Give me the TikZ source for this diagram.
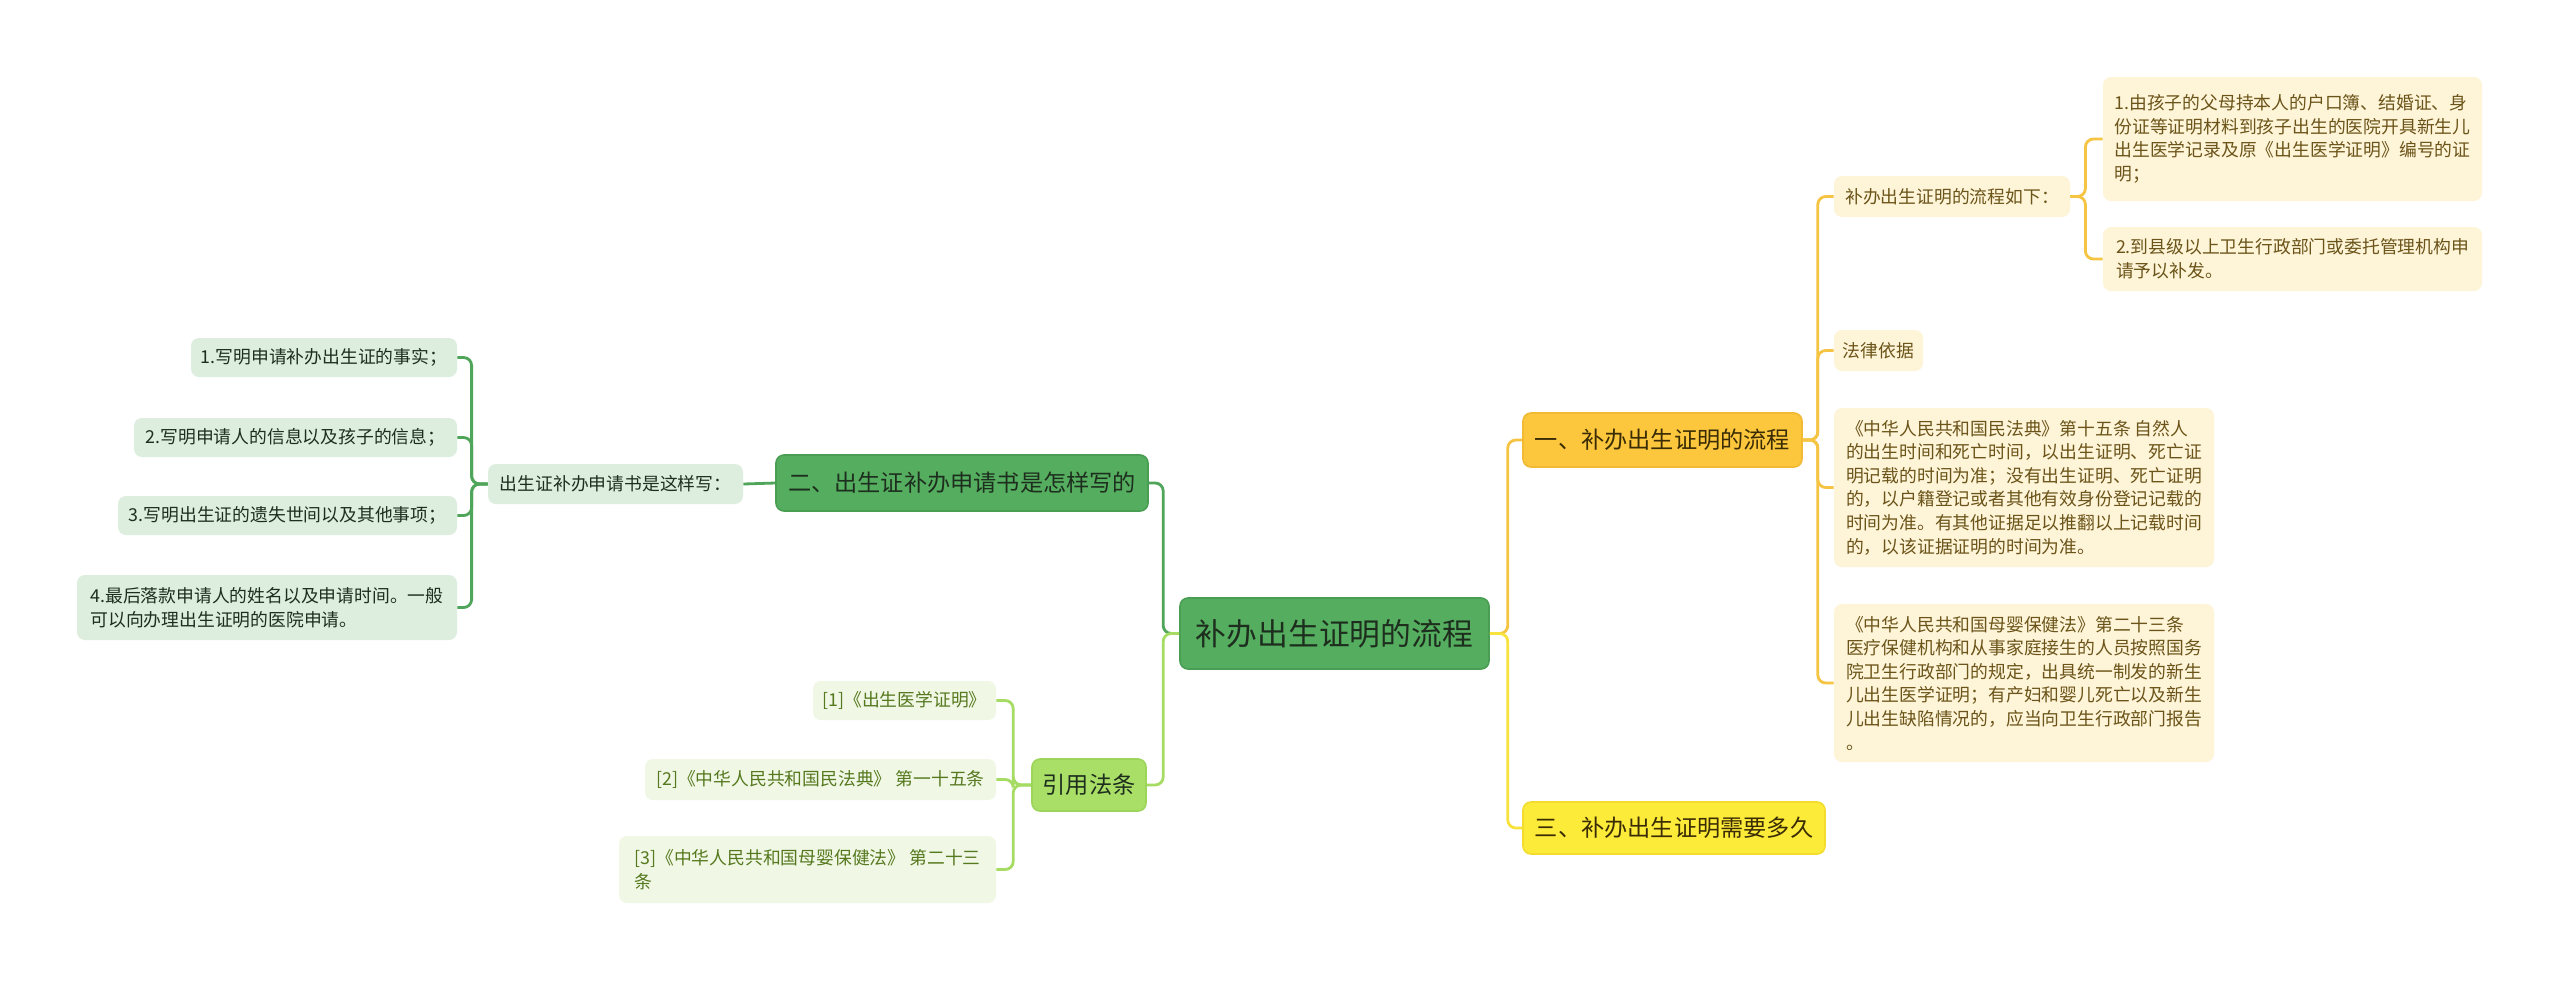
\documentclass[tikz,border=0pt]{standalone}
\usepackage{fontspec}
\setmainfont{Noto Sans CJK SC}
\definecolor{rootg}{HTML}{55AE5F}
\definecolor{rootgb}{HTML}{4A9E53}
\definecolor{darktxt}{HTML}{1E2E1E}
\definecolor{amber}{HTML}{FCC73D}
\definecolor{amberb}{HTML}{F2B934}
\definecolor{yel}{HTML}{FDEB3A}
\definecolor{yelb}{HTML}{F3DC2E}
\definecolor{cream}{HTML}{FEF4D8}
\definecolor{creamtxt}{HTML}{6B5419}
\definecolor{brtxt}{HTML}{3A2C05}
\definecolor{lgfill}{HTML}{DDEEDF}
\definecolor{lime}{HTML}{AADF67}
\definecolor{limeb}{HTML}{9CD55A}
\definecolor{palelime}{HTML}{F0F8E5}
\definecolor{limetxt}{HTML}{56781E}
\definecolor{cOrange}{HTML}{F6C443}
\definecolor{cYellow}{HTML}{F8E33C}
\definecolor{cGreen}{HTML}{4FA55A}
\definecolor{cLime}{HTML}{A6DC63}
\tikzset{
  x=0.5pt, y=-0.5pt,
  sz/.style 2 args={minimum width=#1*0.5pt, minimum height=#2*0.5pt},
  box/.style={rectangle, rounded corners=4pt, inner xsep=4pt, inner ysep=2pt, align=left},
  small/.style={font=\fontsize{8.9}{11.8}\selectfont},
  mid/.style={font=\fontsize{11.6}{14}\selectfont},
  rootbox/.style={box, fill=rootg, draw=rootgb, line width=0.8pt, text=darktxt, font=\fontsize{15.4}{18}\selectfont},
  bigreen/.style={box, fill=rootg, draw=rootgb, line width=0.8pt, text=darktxt, mid},
  amberbox/.style={box, fill=amber, draw=amberb, line width=0.8pt, text=brtxt, mid},
  yelbox/.style={box, fill=yel, draw=yelb, line width=0.8pt, text=brtxt, mid},
  creambox/.style={box, fill=cream, text=creamtxt, small},
  lgbox/.style={box, fill=lgfill, text=darktxt, small},
  limebox/.style={box, fill=lime, draw=limeb, line width=0.8pt, text=darktxt, mid},
  palebox/.style={box, fill=palelime, text=limetxt, small},
  conn/.style={line width=1.4pt, rounded corners=4pt},
}
\begin{document}
\begin{tikzpicture}
\useasboundingbox[fill=white] (0,0) rectangle (2560,981);

% root
\node[rootbox, sz={309}{71}] (root) at (1334.5,633.5) {补办出生证明的流程};

% right branches
\node[amberbox, sz={279}{54}] (b1) at (1662.5,440) {一、补办出生证明的流程};
\node[yelbox, sz={302}{52}] (b3) at (1674,828) {三、补办出生证明需要多久};

\node[creambox, sz={236}{41}] (flow) at (1952,196.5) {补办出生证明的流程如下：};
\node[creambox, sz={379}{124}] (f1) at (2292.5,139) {1.由孩子的父母持本人的户口簿、结婚证、身\\份证等证明材料到孩子出生的医院开具新生儿\\出生医学记录及原《出生医学证明》编号的证\\明；};
\node[creambox, sz={379}{64}] (f2) at (2292.5,259) {2.到县级以上卫生行政部门或委托管理机构申\\请予以补发。};
\node[creambox, sz={89}{41}] (law) at (1878.5,350.5) {法律依据};
\node[creambox, sz={380}{159}] (civil) at (2024,487.5) {《中华人民共和国民法典》第十五条 自然人\\的出生时间和死亡时间，以出生证明、死亡证\\明记载的时间为准；没有出生证明、死亡证明\\的，以户籍登记或者其他有效身份登记记载的\\时间为准。有其他证据足以推翻以上记载时间\\的，以该证据证明的时间为准。};
\node[creambox, sz={380}{158}] (mat) at (2024,683) {《中华人民共和国母婴保健法》第二十三条\\医疗保健机构和从事家庭接生的人员按照国务\\院卫生行政部门的规定，出具统一制发的新生\\儿出生医学证明；有产妇和婴儿死亡以及新生\\儿出生缺陷情况的，应当向卫生行政部门报告\\。};

% left branches
\node[bigreen, sz={372}{56}] (b2) at (962,483) {二、出生证补办申请书是怎样写的};
\node[lgbox, sz={255}{40}] (app) at (615.5,484) {出生证补办申请书是这样写：};
\node[lgbox, sz={266}{39}] (l1) at (324,357.5) {1.写明申请补办出生证的事实；};
\node[lgbox, sz={323}{39}] (l2) at (295.5,437.5) {2.写明申请人的信息以及孩子的信息；};
\node[lgbox, sz={339}{39}] (l3) at (287.5,515.5) {3.写明出生证的遗失世间以及其他事项；};
\node[lgbox, sz={380}{65}] (l4) at (267,607.5) {4.最后落款申请人的姓名以及申请时间。一般\\可以向办理出生证明的医院申请。};

\node[limebox, sz={114}{52}] (cite) at (1089,785) {引用法条};
\node[palebox, sz={183}{39}] (r1) at (904.5,700.5) {[1]《出生医学证明》};
\node[palebox, sz={351}{41}] (r2) at (820.5,779.5) {[2]《中华人民共和国民法典》 第一十五条};
\node[palebox, sz={377}{67}] (r3) at (807.5,869.5) {[3]《中华人民共和国母婴保健法》 第二十三\\条};

% connectors right
\draw[conn, cOrange] (root.east) -- ++(18,0) |- (b1.west);
\draw[conn, cYellow] (root.east) -- ++(18,0) |- (b3.west);
\foreach \t in {flow, law, civil, mat}
  \draw[conn, cOrange] (b1.east) -- ++(15,0) |- (\t.west);
\foreach \t in {f1, f2}
  \draw[conn, cOrange] (flow.east) -- ++(15,0) |- (\t.west);

% connectors left
\draw[conn, cGreen] (root.west) -- ++(-16,0) |- (b2.east);
\draw[conn, cLime] (root.west) -- ++(-16,0) |- (cite.east);
\draw[conn, cGreen] (b2.west) -- (app.east);
\foreach \t in {l1, l2, l3, l4}
  \draw[conn, cGreen] (app.west) -- ++(-16,0) |- (\t.east);
\foreach \t in {r1, r2, r3}
  \draw[conn, cLime] (cite.west) -- ++(-18,0) |- (\t.east);
\end{tikzpicture}
\end{document}
